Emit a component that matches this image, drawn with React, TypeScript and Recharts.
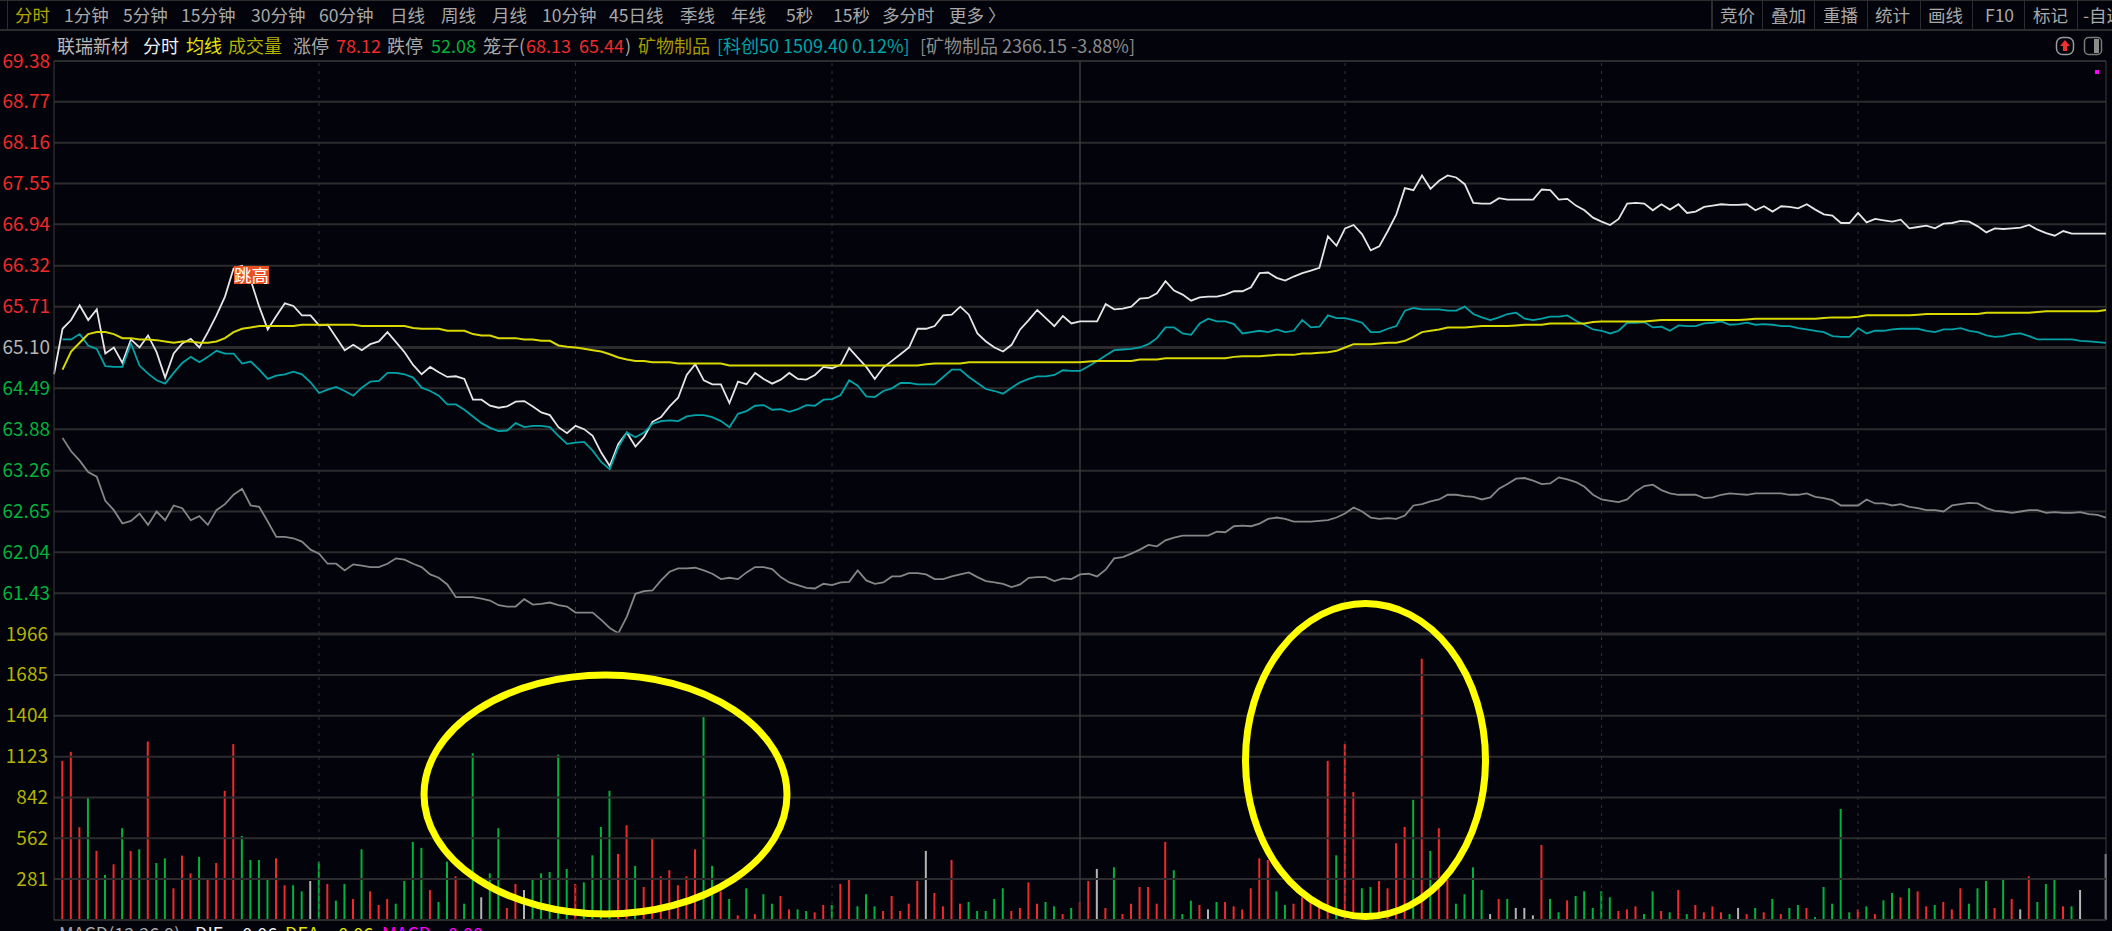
import { Bar, Cell, ComposedChart, Line, ReferenceLine, XAxis, YAxis } from "recharts"

// price per minute, index 0 is the auction print
const lastPrice = [
  64.70,
  65.38,65.51,65.73,65.51,65.67,65.01,65.10,64.87,65.22,65.10,
  65.28,65.03,64.65,65.01,65.16,65.23,65.10,65.33,65.58,65.86,
  66.28,66.32,66.11,65.71,65.37,65.57,65.76,65.72,65.58,65.58,
  65.43,65.44,65.25,65.06,65.14,65.06,65.15,65.19,65.33,65.18,
  65.03,64.84,64.70,64.81,64.73,64.66,64.67,64.63,64.32,64.32,
  64.23,64.20,64.22,64.29,64.30,64.22,64.13,64.09,63.91,63.82,
  63.93,63.88,63.78,63.53,63.33,63.66,63.83,63.62,63.76,63.99,
  64.06,64.22,64.35,64.69,64.85,64.61,64.55,64.55,64.27,64.59,
  64.55,64.72,64.63,64.56,64.62,64.72,64.63,64.62,64.69,64.81,
  64.79,64.84,65.09,64.95,64.81,64.63,64.80,64.90,65.00,65.10,
  65.38,65.38,65.42,65.58,65.59,65.71,65.59,65.31,65.19,65.10,
  65.04,65.14,65.37,65.51,65.66,65.54,65.42,65.57,65.46,65.49,
  65.49,65.49,65.75,65.67,65.68,65.71,65.83,65.84,65.91,66.09,
  65.95,65.89,65.80,65.85,65.86,65.86,65.89,65.94,65.94,66.00,
  66.21,66.22,66.14,66.10,66.16,66.21,66.25,66.29,66.76,66.62,
  66.88,66.93,66.79,66.55,66.61,66.84,67.09,67.48,67.45,67.67,
  67.47,67.59,67.67,67.64,67.54,67.26,67.25,67.25,67.33,67.31,
  67.31,67.31,67.31,67.46,67.45,67.31,67.32,67.22,67.15,67.04,
  66.98,66.93,67.02,67.25,67.26,67.25,67.15,67.24,67.16,67.24,
  67.11,67.13,67.20,67.22,67.24,67.23,67.23,67.24,67.15,67.21,
  67.13,67.21,67.20,67.18,67.24,67.16,67.09,67.07,66.96,66.96,
  67.11,66.97,67.02,67.00,66.98,67.01,66.88,66.90,66.92,66.88,
  66.95,66.96,66.99,66.98,66.91,66.82,66.88,66.87,66.88,66.89,
  66.93,66.86,66.81,66.77,66.84,66.80,66.80,66.80,66.80,66.80,
]

// 科创50 overlay, rescaled onto the price axis
const kechuang50 = [
  null,
  65.22,65.22,65.30,65.13,65.08,64.82,64.81,64.81,65.16,64.83,
  64.71,64.61,64.56,64.72,64.87,64.96,64.88,64.96,65.05,65.01,
  65.01,64.86,64.89,64.77,64.63,64.68,64.70,64.74,64.70,64.58,
  64.42,64.47,64.51,64.45,64.38,64.50,64.59,64.60,64.72,64.72,
  64.70,64.65,64.50,64.45,64.38,64.25,64.25,64.17,64.07,63.97,
  63.90,63.85,63.86,63.97,63.91,63.93,63.93,63.91,63.78,63.66,
  63.68,63.69,63.56,63.39,63.28,63.61,63.83,63.76,63.83,63.96,
  64.00,64.01,64.00,64.07,64.09,64.09,64.06,64.00,63.91,64.11,
  64.15,64.23,64.24,64.17,64.18,64.14,64.18,64.24,64.23,64.32,
  64.33,64.39,64.61,64.53,64.37,64.36,64.45,64.49,64.57,64.57,
  64.55,64.55,64.55,64.66,64.77,64.77,64.66,64.57,64.48,64.45,
  64.41,64.50,64.58,64.63,64.67,64.67,64.69,64.76,64.75,64.75,
  64.82,64.90,64.98,65.06,65.07,65.08,65.10,65.15,65.24,65.40,
  65.40,65.31,65.29,65.46,65.53,65.49,65.49,65.45,65.31,65.33,
  65.35,65.33,65.37,65.33,65.35,65.51,65.40,65.41,65.58,65.54,
  65.54,65.51,65.47,65.33,65.33,65.38,65.42,65.65,65.69,65.67,
  65.67,65.67,65.65,65.65,65.71,65.60,65.55,65.51,65.55,65.60,
  65.62,65.53,65.51,65.53,65.56,65.56,65.58,65.50,65.44,65.37,
  65.35,65.31,65.35,65.47,65.47,65.48,65.40,65.41,65.35,65.43,
  65.42,65.42,65.46,65.47,65.49,65.44,65.45,65.47,65.44,65.45,
  65.44,65.42,65.42,65.39,65.37,65.35,65.33,65.27,65.26,65.26,
  65.39,65.31,65.35,65.35,65.37,65.38,65.38,65.38,65.35,65.33,
  65.37,65.37,65.39,65.35,65.33,65.28,65.26,65.27,65.30,65.31,
  65.27,65.22,65.22,65.22,65.22,65.22,65.20,65.19,65.18,65.17,
]

const avgPrice = [
  null,
  64.77,65.04,65.17,65.30,65.33,65.33,65.30,65.24,65.24,65.22,
  65.22,65.21,65.19,65.17,65.19,65.19,65.17,65.17,65.19,65.24,
  65.33,65.38,65.40,65.42,65.42,65.42,65.42,65.42,65.44,65.44,
  65.44,65.44,65.44,65.44,65.44,65.42,65.42,65.42,65.42,65.42,
  65.42,65.39,65.38,65.38,65.38,65.35,65.35,65.35,65.30,65.28,
  65.28,65.24,65.24,65.24,65.22,65.22,65.20,65.20,65.13,65.11,
  65.10,65.08,65.06,65.04,65.00,64.95,64.92,64.90,64.90,64.88,
  64.88,64.88,64.86,64.86,64.86,64.86,64.86,64.86,64.83,64.83,
  64.83,64.83,64.83,64.83,64.83,64.83,64.83,64.83,64.83,64.83,
  64.83,64.83,64.83,64.83,64.83,64.83,64.83,64.83,64.83,64.83,
  64.83,64.85,64.86,64.86,64.86,64.86,64.88,64.88,64.88,64.88,
  64.88,64.88,64.88,64.88,64.88,64.88,64.88,64.88,64.88,64.88,
  64.89,64.90,64.90,64.90,64.90,64.90,64.92,64.92,64.92,64.94,
  64.94,64.94,64.94,64.94,64.94,64.94,64.94,64.96,64.97,64.97,
  64.97,64.98,64.99,64.99,64.99,65.01,65.01,65.02,65.03,65.05,
  65.10,65.15,65.15,65.15,65.16,65.17,65.17,65.20,65.26,65.33,
  65.35,65.37,65.40,65.40,65.40,65.41,65.42,65.42,65.42,65.42,
  65.43,65.44,65.44,65.44,65.46,65.46,65.46,65.46,65.46,65.48,
  65.49,65.49,65.49,65.49,65.49,65.49,65.50,65.51,65.51,65.51,
  65.51,65.51,65.51,65.51,65.51,65.51,65.51,65.52,65.53,65.53,
  65.53,65.53,65.53,65.53,65.53,65.53,65.54,65.55,65.55,65.55,
  65.56,65.58,65.58,65.58,65.58,65.58,65.58,65.59,65.60,65.60,
  65.60,65.60,65.60,65.60,65.60,65.62,65.62,65.62,65.62,65.62,
  65.62,65.63,65.64,65.64,65.64,65.64,65.64,65.64,65.64,65.66,
]

// 矿物制品 sector index, rescaled onto the price axis
const sectorIndex = [
  null,
  63.75,63.55,63.41,63.24,63.17,62.81,62.67,62.47,62.51,62.62,
  62.45,62.65,62.52,62.74,62.70,62.52,62.58,62.45,62.67,62.76,
  62.90,62.99,62.74,62.72,62.50,62.27,62.27,62.25,62.20,62.08,
  62.02,61.87,61.87,61.77,61.86,61.84,61.82,61.82,61.87,61.95,
  61.93,61.87,61.82,61.71,61.66,61.56,61.37,61.37,61.37,61.35,
  61.32,61.25,61.23,61.23,61.34,61.26,61.27,61.29,61.25,61.23,
  61.14,61.14,61.14,61.03,60.91,60.83,61.08,61.42,61.46,61.47,
  61.62,61.75,61.80,61.80,61.81,61.77,61.72,61.64,61.66,61.64,
  61.74,61.82,61.82,61.79,61.67,61.59,61.55,61.51,61.50,61.57,
  61.55,61.59,61.60,61.77,61.62,61.57,61.59,61.68,61.68,61.73,
  61.73,61.71,61.64,61.64,61.68,61.71,61.74,61.67,61.61,61.59,
  61.57,61.52,61.56,61.66,61.67,61.67,61.61,61.65,61.64,61.71,
  61.72,61.68,61.78,61.95,61.97,62.02,62.08,62.15,62.13,62.22,
  62.26,62.29,62.29,62.29,62.29,62.35,62.34,62.43,62.44,62.43,
  62.47,62.54,62.56,62.54,62.50,62.50,62.50,62.51,62.52,62.56,
  62.62,62.71,62.65,62.56,62.54,62.55,62.54,62.59,62.74,62.76,
  62.80,62.83,62.90,62.90,62.88,62.87,62.83,62.86,62.99,63.06,
  63.14,63.15,63.11,63.06,63.07,63.16,63.13,63.09,63.02,62.90,
  62.83,62.81,62.79,62.83,62.95,63.03,63.05,62.97,62.92,62.90,
  62.90,62.90,62.85,62.86,62.90,62.92,62.91,62.90,62.92,62.92,
  62.92,62.92,62.90,62.90,62.92,62.87,62.85,62.82,62.74,62.74,
  62.74,62.83,62.77,62.77,62.74,62.76,62.72,62.70,62.67,62.67,
  62.65,62.74,62.76,62.78,62.77,62.70,62.66,62.65,62.63,62.65,
  62.67,62.67,62.63,62.64,62.63,62.63,62.64,62.61,62.60,62.56,
]

const volume = [
  0,
  1094,1156,638,844,475,310,383,631,475,486,
  1227,392,424,218,443,321,434,280,392,888,
  1209,578,413,413,280,424,239,239,197,268,
  401,248,133,248,145,486,197,103,145,112,
  268,537,496,206,124,401,301,112,1147,156,
  321,631,83,248,206,280,321,330,1136,351,
  248,259,445,640,888,454,651,372,227,557,
  301,342,239,301,486,1395,372,197,145,32,
  218,41,177,112,165,73,73,62,53,103,
  103,248,289,94,177,94,62,165,62,112,
  268,475,186,94,413,112,124,62,62,145,
  218,62,83,259,112,124,94,41,83,124,
  268,351,83,362,41,112,227,227,112,537,
  342,41,133,103,73,124,124,94,73,218,
  424,413,197,103,112,156,124,133,1094,445,
  1209,879,218,227,268,218,528,640,826,1796,
  475,631,280,112,177,362,206,41,145,145,
  83,83,32,516,145,53,135,165,197,83,
  197,156,62,73,94,41,197,62,53,206,
  41,103,53,94,53,41,83,41,83,53,
  145,41,83,103,83,20,227,112,764,53,
  73,94,41,135,186,156,218,197,94,103,
  124,73,218,112,218,268,83,289,145,73,
  301,124,248,280,94,94,206,0,0,454,
]

// one letter per minute: u = up tick, d = down tick, f = flat
const volumeDir = [
  "f",
  "uuudududud", "udduuuduuu", "udddduuddf", "dudduduuud", "dddudduddf", "dduufddddd",
  "udddduuduu", "uuuuuddudu", "dudduudduu", "duuddduuuu", "ufuuuudddd", "duuuuddudu",
  "ufuduuuuuu", "dddufduuuu", "uudduuuuud", "uudduuuudu", "duuddddfud", "fffudduddd",
  "dduuuddudu", "duuuudfudu", "dudduddddd", "ududduduud", "uuuddduduf", "udddudffff",
].join("").split("")

const priceTicks = [69.38, 68.77, 68.16, 67.55, 66.94, 66.32, 65.71, 65.10, 64.49, 63.88, 63.26, 62.65, 62.04, 61.43]
const volumeTicks = [1966, 1685, 1404, 1123, 842, 562, 281]
const dashedMarks = [31, 61, 91, 151, 181, 211]

const tabs = [
  ["分时", 15], ["1分钟", 64], ["5分钟", 123], ["15分钟", 181], ["30分钟", 251], ["60分钟", 319],
  ["日线", 390], ["周线", 441], ["月线", 492], ["10分钟", 542], ["45日线", 609], ["季线", 680],
  ["年线", 731], ["5秒", 786], ["15秒", 833], ["多分时", 882], ["更多 〉", 949],
]
const rightTabs = [
  ["竞价", 1720], ["叠加", 1771], ["重播", 1823], ["统计", 1875],
  ["画线", 1928], ["F10", 1985], ["标记", 2033], ["-自选", 2083],
]
const tabSeparators = [1711, 1762, 1814, 1867, 1920, 1972, 2024, 2077]

const infoRow = [
  ["联瑞新材", 57, "#b9b9b9"], ["分时", 143, "#f0f0f0"], ["均线", 186, "#e6e600"], ["成交量", 228, "#b3b300"],
  ["涨停", 293, "#a8a8a8"], ["78.12", 336, "#f02a2a"], ["跌停", 387, "#a8a8a8"], ["52.08", 431, "#00b33c"],
  ["笼子(", 483, "#a8a8a8"], ["68.13", 526, "#f02a2a"], ["65.44", 579, "#f02a2a"], [")", 625, "#a8a8a8"],
  ["矿物制品", 638, "#a89a00"], ["[科创50 1509.40 0.12%]", 717, "#00a3a8"], ["[矿物制品 2366.15 -3.88%]", 920, "#8c8c8c"],
]

const macdRow = [
  ["MACD(12,26,9)", 59, "#a8a8a8"], ["DIF:", 195, "#f0f0f0"], ["-0.06", 236, "#f0f0f0"],
  ["DEA:", 285, "#e6e600"], ["-0.06", 332, "#e6e600"], ["MACD:", 382, "#ff00ff"], ["0.00", 448, "#ff00ff"],
]

const priceData = lastPrice.map((price, i) => ({
  i,
  price,
  avg: avgPrice[i],
  kc50: kechuang50[i],
  sector: sectorIndex[i],
}))
const volumeData = volume.map((vol, i) => ({ i, vol, dir: volumeDir[i] }))

const BG = "#02030b"
const GRID = "#2c2c2e"
const FONT = '"Noto Sans CJK SC", "Noto Sans", sans-serif'
const dirColor = { u: "#f02a2a", d: "#00b33c", f: "#b4b4b4" }

function priceColor(v: number) {
  if (v > 65.1) return "#f02a2a"
  if (v < 65.1) return "#00b33c"
  return "#b4b4b4"
}

function PriceTick({ x, y, payload }: any) {
  return (
    <text x={x + 2} y={y} dy={6.5} textAnchor="end" fontSize={19} fontFamily={FONT} fill={priceColor(payload.value)}>
      {payload.value.toFixed(2)}
    </text>
  )
}

function VolumeTick({ x, y, payload }: any) {
  return (
    <text x={x + 2} y={y} dy={6.5} textAnchor="end" fontSize={19} fontFamily={FONT} fill="#b3b300">
      {payload.value}
    </text>
  )
}

function Label({ text, x, y, color, size = 18 }: any) {
  return (
    <span style={{ position: "absolute", left: x, top: y, color, fontSize: size, lineHeight: "24px", whiteSpace: "pre", fontFamily: FONT }}>
      {text}
    </span>
  )
}

function VerticalMarks() {
  return (
    <>
      {dashedMarks.map((m) => (
        <ReferenceLine key={m} x={m} stroke="#333336" strokeDasharray="3 5" />
      ))}
      <ReferenceLine x={120} stroke="#3a3a3c" strokeWidth={1.5} />
      <ReferenceLine x={240} stroke="#3a3a3c" />
    </>
  )
}

function PricePanel() {
  return (
    <ComposedChart
      width={2112}
      height={640}
      data={priceData}
      margin={{ top: 61, right: 6, bottom: 6, left: 0 }}
      style={{ position: "absolute", left: 0, top: 0 }}
    >
      <XAxis dataKey="i" type="number" domain={[0, 240]} hide />
      <YAxis
        type="number"
        domain={[60.82, 69.38]}
        ticks={priceTicks}
        interval={0}
        width={54}
        tick={<PriceTick />}
        tickLine={false}
        tickMargin={0}
        axisLine={{ stroke: "#3a3a3c" }}
      />
      {priceTicks.map((value) => (
        <ReferenceLine key={value} y={value} stroke={GRID} strokeWidth={value === 65.1 ? 3 : 2} />
      ))}
      {VerticalMarks()}
      <Line dataKey="sector" stroke="#868686" strokeWidth={1.8} dot={false} isAnimationActive={false} />
      <Line dataKey="price" stroke="#e6e6e6" strokeWidth={1.8} dot={false} isAnimationActive={false} />
      <Line dataKey="kc50" stroke="#00a3a8" strokeWidth={1.8} dot={false} isAnimationActive={false} />
      <Line dataKey="avg" stroke="#d9d900" strokeWidth={2} dot={false} isAnimationActive={false} />
    </ComposedChart>
  )
}

function VolumePanel() {
  return (
    <ComposedChart
      width={2112}
      height={321}
      data={volumeData}
      margin={{ top: 24, right: 6, bottom: 11, left: 0 }}
      style={{ position: "absolute", left: 0, top: 610 }}
    >
      <XAxis dataKey="i" type="number" domain={[0, 240]} hide />
      <YAxis
        type="number"
        domain={[0, 1966]}
        ticks={volumeTicks}
        interval={0}
        width={54}
        tick={<VolumeTick />}
        tickLine={false}
        axisLine={{ stroke: "#3a3a3c" }}
      />
      {volumeTicks.map((value) => (
        <ReferenceLine key={value} y={value} stroke={GRID} strokeWidth={value === 1966 ? 3 : 2} />
      ))}
      <ReferenceLine y={0} stroke={GRID} strokeWidth={2} />
      {VerticalMarks()}
      <Bar dataKey="vol" barSize={2} isAnimationActive={false}>
        {volumeData.map((d) => (
          <Cell key={d.i} fill={dirColor[d.dir]} />
        ))}
      </Bar>
    </ComposedChart>
  )
}

export default function App() {
  return (
    <div style={{ position: "absolute", left: 0, top: 0, width: 2112, height: 931, background: BG, overflow: "hidden", fontFamily: FONT }}>
      {/* toolbar */}
      <div style={{ position: "absolute", left: 0, top: 0, width: 2112, height: 1, background: "#2c2c2e" }} />
      <div style={{ position: "absolute", left: 0, top: 29, width: 2112, height: 2, background: "#2c2c2e" }} />
      <div style={{ position: "absolute", left: 7, top: 0, width: 1, height: 29, background: "#2c2c2e" }} />
      {tabSeparators.map((x, n) => (
        <div key={x} style={{ position: "absolute", left: x, top: 0, width: n === 0 ? 2 : 1, height: 29, background: "#2c2c2e" }} />
      ))}
      {tabs.map(([text, x], n) => (
        <Label key={text} text={text} x={x} y={3} size={17.5} color={n === 0 ? "#b3a500" : "#a8a8a8"} />
      ))}
      {rightTabs.map(([text, x]) => (
        <Label key={text} text={text} x={x} y={3} size={17.5} color="#a8a8a8" />
      ))}

      {/* quote row */}
      {infoRow.map(([text, x, color]) => (
        <Label key={text + x} text={text} x={x} y={33} color={color} />
      ))}
      <svg width={2112} height={60} style={{ position: "absolute", left: 0, top: 0 }}>
        <rect x={2056.5} y={37.5} width={17} height={17} rx={6} fill="none" stroke="#9a9a9a" strokeWidth={1.5} />
        <path d="M2065 40 L2070 46 L2067 46 L2067 51 L2063 51 L2063 46 L2060 46 Z" fill="#f03030" />
        <rect x={2084.5} y={37.5} width={17} height={17} rx={4} fill="none" stroke="#7a7a7a" strokeWidth={1.5} />
        <rect x={2094} y={39} width={5} height={14} fill="#8c8c8c" />
      </svg>

      <PricePanel />
      <VolumePanel />

      <div style={{ position: "absolute", left: 2095, top: 70, width: 4, height: 4, background: "#ff00ff" }} />
      <div style={{ position: "absolute", left: 234, top: 266, width: 35, height: 18, background: "#e8501f", color: "#ffffff", fontSize: 17.5, lineHeight: "18px", textAlign: "center", whiteSpace: "nowrap", fontFamily: FONT }}>
        跳高
      </div>

      {/* macd caption, cut off by the bottom of the window */}
      {macdRow.map(([text, x, color]) => (
        <Label key={text + x} text={text} x={x} y={921} color={color} />
      ))}

      {/* hand drawn yellow rings */}
      <svg width={2112} height={931} style={{ position: "absolute", left: 0, top: 0, pointerEvents: "none" }}>
        <ellipse cx={605.5} cy={794.5} rx={181.5} ry={119.5} fill="none" stroke="#ffff00" strokeWidth={7} />
        <ellipse cx={1365.5} cy={760} rx={120} ry={156.5} fill="none" stroke="#ffff00" strokeWidth={7} />
      </svg>
    </div>
  )
}
